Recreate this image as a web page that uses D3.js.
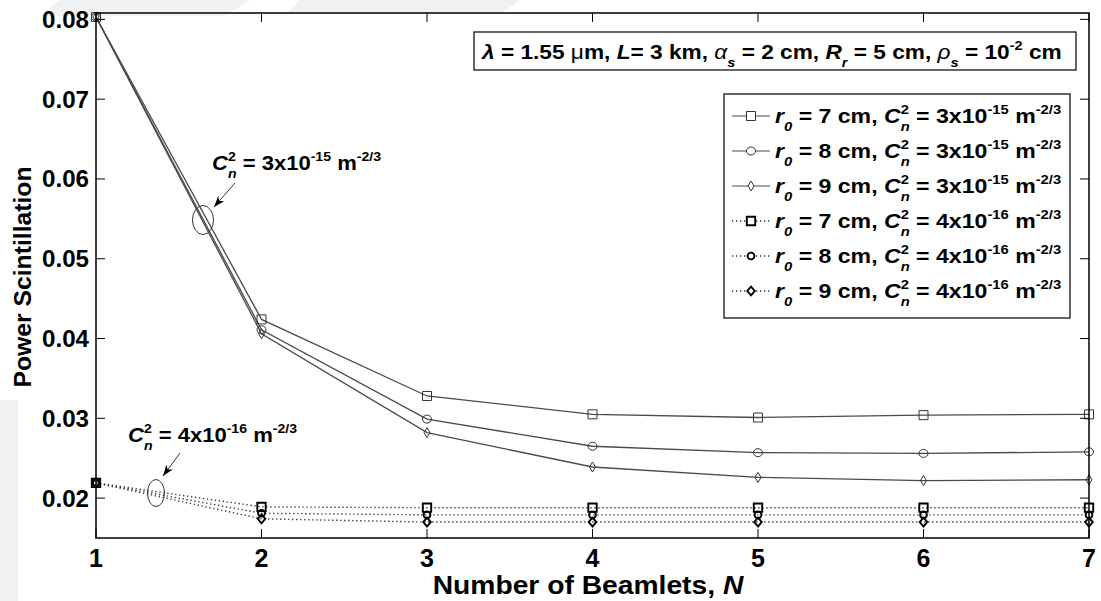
<!DOCTYPE html>
<html><head><meta charset="utf-8">
<script src="https://cdn.jsdelivr.net/npm/d3@7"></script>
<style>
html,body{margin:0;padding:0;background:#fff;}
svg{display:block;font-family:Arial,"Liberation Sans",Helvetica,sans-serif;}
</style></head>
<body>
<svg id="chart" width="1101" height="601"></svg>
<script>
// ---------- data ----------
const beamlets = [1, 2, 3, 4, 5, 6, 7];
const yTicks = [0.02, 0.03, 0.04, 0.05, 0.06, 0.07, 0.08];
const yTickLabels = ["0.02", "0.03", "0.04", "0.05", "0.06", "0.07", "0.08"];
const xTickLabels = ["1", "2", "3", "4", "5", "6", "7"];
// Cn^2 = 3e-15
const r7_strong = [0.0803, 0.0424, 0.0328, 0.0305, 0.0301, 0.0304, 0.0305];
const r8_strong = [0.0803, 0.0411, 0.0299, 0.0265, 0.0257, 0.0256, 0.0258];
const r9_strong = [0.0803, 0.0406, 0.0282, 0.0239, 0.0226, 0.0222, 0.0223];
// Cn^2 = 4e-16
const r7_weak = [0.0219, 0.0189, 0.0188, 0.0188, 0.0188, 0.0188, 0.0188];
const r8_weak = [0.0219, 0.0181, 0.0179, 0.0179, 0.0179, 0.0179, 0.0179];
const r9_weak = [0.0219, 0.0174, 0.0170, 0.0170, 0.0170, 0.0170, 0.0170];
const seriesNames = [
  {r0: "7", cn: "3x10", e: "-15"},
  {r0: "8", cn: "3x10", e: "-15"},
  {r0: "9", cn: "3x10", e: "-15"},
  {r0: "7", cn: "4x10", e: "-16"},
  {r0: "8", cn: "4x10", e: "-16"},
  {r0: "9", cn: "4x10", e: "-16"}
];

// ---------- layout ----------
const svg = d3.select("#chart");
const L = 96, R = 1089, T = 13, B = 538;
const x = d3.scaleLinear().domain([1, 7]).range([L, R]);
const y = d3.scaleLinear().domain([0.015, 0.0808]).range([B, T]);

const series = [
  {v: r7_strong, m: "square", dotted: false},
  {v: r8_strong, m: "circle", dotted: false},
  {v: r9_strong, m: "diamond", dotted: false},
  {v: r7_weak, m: "square", dotted: true},
  {v: r8_weak, m: "circle", dotted: true},
  {v: r9_weak, m: "diamond", dotted: true}
];

function markerPath(kind, dotted) {
  if (kind === "square") { const w = dotted ? 4.2 : 4.5; return `M${-w},${-w}H${w}V${w}H${-w}Z`; }
  if (kind === "circle") { const rx = dotted ? 3.4 : 4.5, ry = dotted ? 3.4 : 4; return `M${-rx},0A${rx},${ry} 0 1,0 ${rx},0A${rx},${ry} 0 1,0 ${-rx},0Z`; }
  const w = dotted ? 3.8 : 3, h = dotted ? 4.4 : 5;
  return `M0,${-h}L${w},0L0,${h}L${-w},0Z`;
}

// ---------- rich text helper (with horizontal stretch sx) ----------
function rich(parent, px, py, parts, size, anchor, sx) {
  const g = parent.append("g").attr("transform", `translate(${px},${py}) scale(${sx || 1},1)`);
  const t = g.append("text").attr("x", 0).attr("y", 0)
    .attr("font-size", size).attr("font-weight", "bold").attr("fill", "#000")
    .attr("text-anchor", anchor || "start");
  let off = 0;
  parts.forEach(p => {
    const str = p[0], opt = p[1] || "";
    const sub = opt.includes("_"), sup = opt.includes("^");
    const target = sub ? size * 0.38 : (sup ? -size * 0.42 : 0);
    const ts = t.append("tspan").text(str).attr("dy", target - off);
    off = target;
    if (sub || sup) ts.attr("font-size", size * 0.64);
    if (opt.includes("i")) ts.attr("font-style", "italic");
    if (opt.includes("n")) ts.attr("font-weight", "normal");
    if (p[2] !== undefined) ts.attr("dx", p[2]);
  });
  return t;
}
function cnParts(size, coef, exp) {
  const w = size * 0.64 * 0.556;
  return [["C", "i"], ["2", "^"], ["n", "i_", -w], [" = " + coef], [exp, "^"], [" m"], ["-2/3", "^"]];
}

// ---------- background watermark (faint) ----------
const wm = svg.append("g").attr("fill", "#f1f1f1");
wm.append("path").attr("d", "M60,0L250,0L225,16L40,16Z");
wm.append("path").attr("d", "M300,0L520,0L500,14L285,14Z");
wm.append("path").attr("d", "M0,400L18,400L18,601L0,601Z");

// ---------- plot frame, ticks ----------
const frame = svg.append("g");
const tk = 9;
yTicks.forEach(v => {
  frame.append("line").attr("x1", L).attr("x2", L + tk).attr("y1", y(v)).attr("y2", y(v)).attr("stroke", "#000");
  frame.append("line").attr("x1", R - tk).attr("x2", R).attr("y1", y(v)).attr("y2", y(v)).attr("stroke", "#000");
});
beamlets.forEach(n => {
  frame.append("line").attr("x1", x(n)).attr("x2", x(n)).attr("y1", B).attr("y2", B - tk).attr("stroke", "#000");
  frame.append("line").attr("x1", x(n)).attr("x2", x(n)).attr("y1", T).attr("y2", T + tk).attr("stroke", "#000");
});

// ---------- series ----------
const line = d3.line().x((d, i) => x(beamlets[i])).y(d => y(d));
const plot = svg.append("g");
series.forEach(s => {
  plot.append("path").datum(s.v).attr("d", line).attr("fill", "none")
    .attr("stroke", s.dotted ? "#333" : "#4a4a4a").attr("stroke-width", s.dotted ? 1.4 : 1.3)
    .attr("stroke-dasharray", s.dotted ? "1.3,2.7" : null);
});
series.forEach(s => {
  plot.selectAll(null).data(s.v).enter().append("path")
    .attr("transform", (d, i) => `translate(${x(beamlets[i])},${y(d)})`)
    .attr("d", markerPath(s.m, s.dotted)).attr("fill", "none")
    .attr("stroke", s.dotted ? "#000" : "#333").attr("stroke-width", s.dotted ? 1.9 : 1);
});

frame.append("rect").attr("x", L).attr("y", T).attr("width", R - L).attr("height", B - T)
  .attr("fill", "none").attr("stroke", "#000").attr("stroke-width", 1.5);
frame.raise();

// ---------- tick labels ----------
const lab = svg.append("g");
yTicks.forEach((v, i) => {
  rich(lab, 89, y(v) + 8.5, [[yTickLabels[i]]], 23, "end", 1.05);
});
beamlets.forEach((n, i) => {
  rich(lab, x(n), 567, [[xTickLabels[i]]], 25, "middle", 1.0);
});
// axis titles
rich(lab, 588, 594, [["Number of Beamlets, "], ["N", "i"]], 25, "middle", 1.13);
lab.append("g").attr("transform", "translate(31,277) rotate(-90) scale(1.03,1)")
  .append("text").attr("text-anchor", "middle")
  .attr("font-size", 24).attr("font-weight", "bold").text("Power Scintillation");

// ---------- parameter box ----------
const pb = svg.append("g");
pb.append("rect").attr("x", 474).attr("y", 32).attr("width", 602).attr("height", 38)
  .attr("fill", "#fff").attr("stroke", "#000").attr("stroke-width", 1.2);
rich(pb, 482, 59, [["λ", "i"], [" = 1.55 "], ["μ", "n"], ["m, "], ["L", "i"], ["= 3 km, "], ["α", "in"], ["s", "i_"],
  [" = 2 cm, "], ["R", "i"], ["r", "i_"], [" = 5 cm, "], ["ρ", "in"], ["s", "i_"], [" = 10"], ["-2", "^"], [" cm"]], 21, "start", 1.08);

// ---------- legend ----------
const lg = svg.append("g");
lg.append("rect").attr("x", 724).attr("y", 94).attr("width", 346).attr("height", 224)
  .attr("fill", "#fff").attr("stroke", "#000").attr("stroke-width", 1.2);
series.forEach((s, i) => {
  const cy = 116 + i * 35;
  lg.append("line").attr("x1", 732).attr("x2", 770).attr("y1", cy).attr("y2", cy)
    .attr("stroke", s.dotted ? "#333" : "#4a4a4a").attr("stroke-width", s.dotted ? 1.4 : 1.2)
    .attr("stroke-dasharray", s.dotted ? "1.3,2.7" : null);
  lg.append("path").attr("transform", `translate(751,${cy})`).attr("d", markerPath(s.m, s.dotted))
    .attr("fill", "#fff").attr("stroke", s.dotted ? "#000" : "#333").attr("stroke-width", s.dotted ? 1.9 : 1);
  const nm = seriesNames[i];
  rich(lg, 775, cy + 7, [["r", "i"], ["0", "i_"], [" = " + nm.r0 + " cm, "]].concat(cnParts(21, nm.cn, nm.e)), 21, "start", 1.1);
});

// ---------- annotations ----------
const an = svg.append("g");
rich(an, 212, 170, cnParts(21, "3x10", "-15"), 21, "start", 1.05);
an.append("ellipse").attr("cx", 203).attr("cy", 220).attr("rx", 10.5).attr("ry", 14.5)
  .attr("fill", "none").attr("stroke", "#333").attr("stroke-width", 1);
rich(an, 128, 442, cnParts(21, "4x10", "-16"), 21, "start", 1.05);
an.append("ellipse").attr("cx", 156).attr("cy", 493).attr("rx", 8.5).attr("ry", 13.5)
  .attr("fill", "none").attr("stroke", "#333").attr("stroke-width", 1);
function arrow(x1, y1, x2, y2) {
  an.append("line").attr("x1", x1).attr("y1", y1).attr("x2", x2).attr("y2", y2).attr("stroke", "#333").attr("stroke-width", 1);
  const a = Math.atan2(y2 - y1, x2 - x1), len = 11, hw = 4;
  const bx = x2 - len * Math.cos(a), by = y2 - len * Math.sin(a);
  an.append("path").attr("d", `M${x2},${y2}L${bx + hw * Math.sin(a)},${by - hw * Math.cos(a)}L${bx + 3 * Math.cos(a)},${by + 3 * Math.sin(a)}L${bx - hw * Math.sin(a)},${by + hw * Math.cos(a)}Z`)
    .attr("fill", "#000");
}
arrow(235, 183, 214, 207);
arrow(180, 453, 163, 476);
</script>
</body></html>
